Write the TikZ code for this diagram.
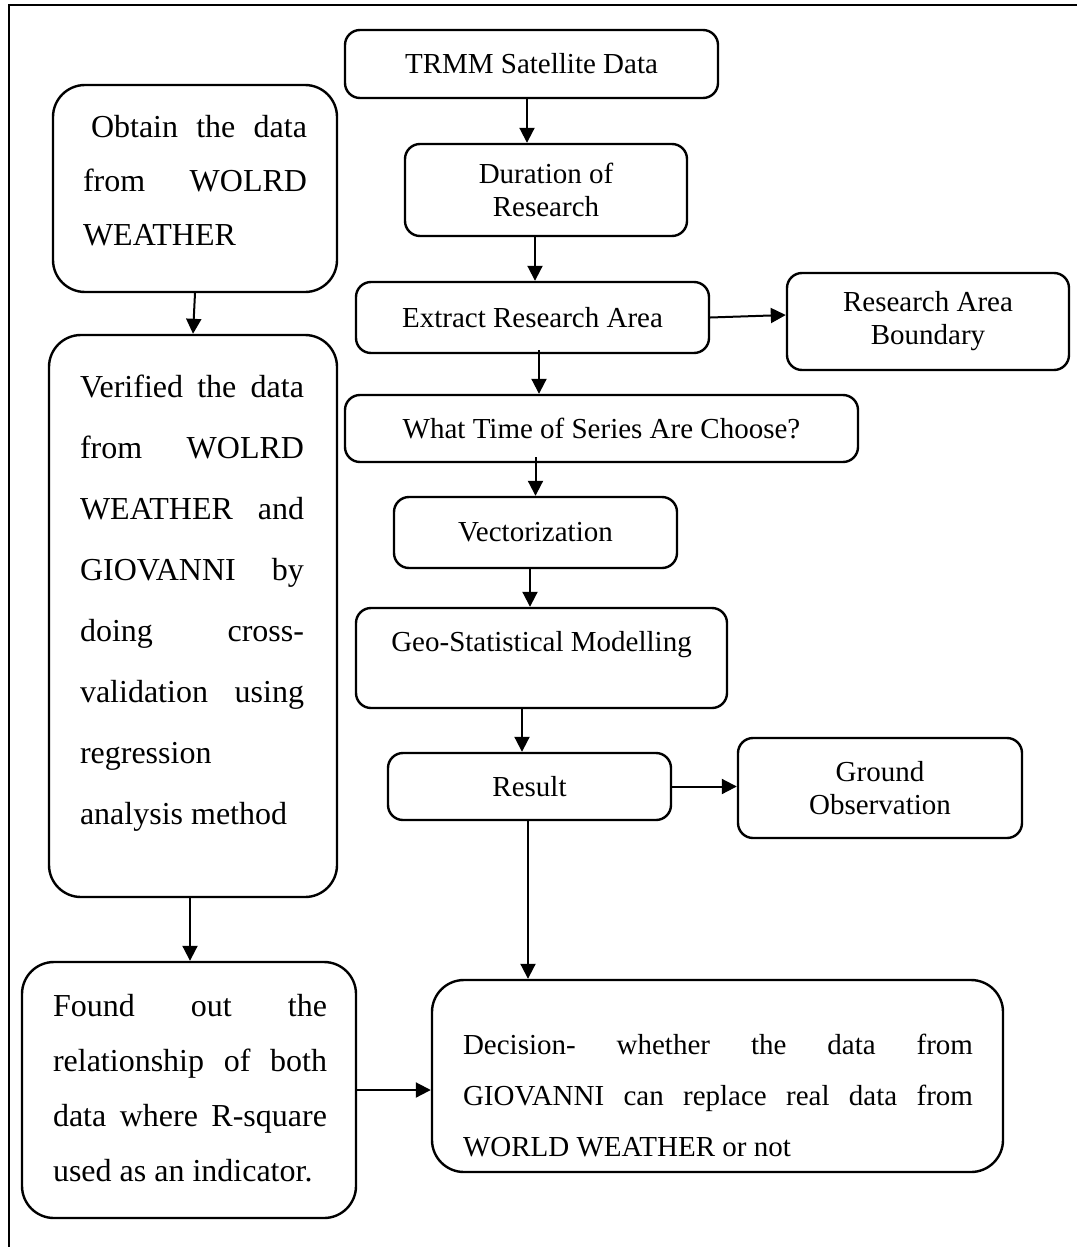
\documentclass[tikz,border=0pt]{standalone}
\usepackage{fontspec}
\setmainfont{Liberation Serif}
\usetikzlibrary{arrows.meta}

\tikzset{
  stage/.style={draw, line width=1.2pt, rounded corners=7.5pt, align=center, inner sep=0pt,
    font=\fontsize{14.5pt}{16.5pt}\selectfont},
  sidebox/.style={draw, line width=1.2pt, rounded corners=16pt},
  sidetext/.style={align=justify, inner sep=0pt},
  flow/.style={line width=1pt, -{Triangle[length=7.5pt,width=7.5pt]}},
}

\begin{document}
\begin{tikzpicture}[x=0.5pt,y=-0.5pt]
\useasboundingbox (0,0) rectangle (1077,1247);
\draw[line width=1pt] (9,1247) |- (1077,5);

% main column
\node[stage, minimum width=186.5pt, minimum height=34pt] (trmm) at (531.5,64) {TRMM Satellite Data};
\node[stage, minimum width=141pt, minimum height=46pt] (duration) at (546,190) {Duration of\\Research};
\node[stage, minimum width=176.5pt, minimum height=35.5pt] (extract) at (532.5,317.5) {Extract Research Area};
\node[stage, minimum width=141pt, minimum height=48.5pt] (boundary) at (928,321.5) {Research Area\\Boundary};
\node[stage, minimum width=256.5pt, minimum height=33.5pt] (timeseries) at (601.5,428.5) {What Time of Series Are Choose?};
\node[stage, minimum width=141.5pt, minimum height=35.5pt] (vector) at (535.5,532.5) {Vectorization};
\node[stage, minimum width=185.5pt, minimum height=50pt] (geo) at (541.5,658) {Geo-Statistical Modelling\\\mbox{}};
\node[stage, minimum width=141.5pt, minimum height=33.5pt] (result) at (529.5,786.5) {Result};
\node[stage, minimum width=142pt, minimum height=50pt] (ground) at (880,788) {Ground\\Observation};
\node[stage, rounded corners=16pt, minimum width=285.5pt, minimum height=96pt] (decision) at (717.5,1076) {};
\node[sidetext, text width=255pt, font=\fontsize{14.5pt}{25.5pt}\selectfont] (decisiontext) at (718,1095)
  {Decision- \hfill whether \hfill the \hfill data \hfill from\\
   GIOVANNI \hfill can \hfill replace \hfill real \hfill data \hfill from\\
   WORLD WEATHER or not};

% left column
\node[sidebox, minimum width=142pt, minimum height=103.5pt] (obtain) at (195,188.5) {};
\node[sidetext, text width=112pt, font=\fontsize{16pt}{27pt}\selectfont] (obtaintext) at (195,181)
  {\hspace*{.25em}Obtain \hfill the \hfill data\\
   from \hfill WOLRD\\
   WEATHER};
\node[sidebox, minimum width=144pt, minimum height=281pt] (verified) at (193,616) {};
\node[sidetext, text width=112pt, font=\fontsize{16pt}{30.5pt}\selectfont] (verifiedtext) at (192,603)
  {Verified \hfill the \hfill data\\
   from \hfill WOLRD\\
   WEATHER \hfill and\\
   GIOVANNI \hfill by\\
   doing \hfill cross-\\
   validation \hfill using\\
   regression\\
   analysis method};
\node[sidebox, minimum width=167pt, minimum height=128pt] (found) at (189,1090) {};
\node[sidetext, text width=137pt, font=\fontsize{16pt}{27.5pt}\selectfont] (foundtext) at (190,1088)
  {Found \hfill out \hfill the\\
   relationship \hfill of \hfill both\\
   data \hfill where \hfill R-square\\
   used as an indicator.};

% connectors
\draw[flow] ([xshift=-2.25pt]trmm.south) -- ([xshift=-9.5pt]duration.north);
\draw[flow] ([xshift=-5.5pt]duration.south) -- ([xshift=1.25pt]extract.north);
\draw[flow] ([xshift=3.25pt,yshift=2pt]extract.south) -- ([xshift=-31.25pt]timeseries.north);
\draw[flow] ([yshift=3pt]timeseries.south -| vector.north) -- (vector.north);
\draw[flow] ([xshift=-2.75pt]vector.south) -- ([xshift=-5.75pt]geo.north);
\draw[flow] ([xshift=-9.75pt,yshift=1pt]geo.south) -- ([xshift=-3.75pt]result.north);
\draw[flow] (extract.east) -- ([yshift=3.25pt]boundary.west);
\draw[flow] (result.east) -- (result.east -| ground.west);
\draw[flow] ([xshift=-0.75pt]result.south) -- ([xshift=-0.75pt]result.south |- decision.north);
\draw[flow] (obtain.south) -- (verified.north);
\draw[flow] ([xshift=-1.5pt]verified.south) -- ([xshift=-1.5pt]verified.south |- found.north);
\draw[flow] (found.east) -- (found.east -| decision.west);
\end{tikzpicture}
\end{document}
